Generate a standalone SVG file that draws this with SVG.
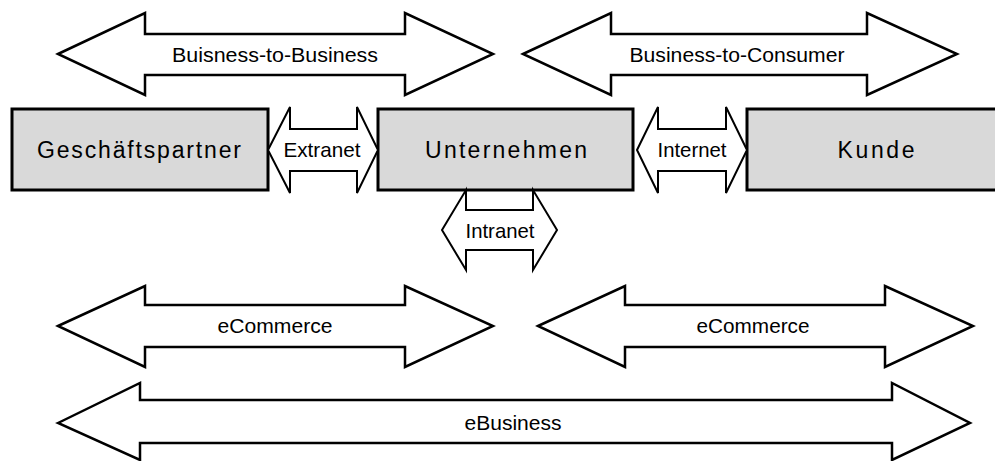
<svg xmlns="http://www.w3.org/2000/svg" width="995" height="461" viewBox="0 0 995 461">
<style>
.box{fill:#d9d9d9;stroke:#000;stroke-width:3}
.arr{fill:#fff;stroke:#000;stroke-width:2.5;stroke-linejoin:miter}
.sm{stroke-width:2}
text{font-family:"Liberation Sans",Arial,sans-serif;fill:#000;text-anchor:middle}
.node{font-size:23px}
.big{font-size:21px}
.lbl{font-size:20px}
</style>
<rect width="995" height="461" fill="#fff"/>
<g id="nodes">
<g id="geschaeftspartner">
<rect class="box" x="12" y="109" width="256" height="81"/>
<text class="node" x="139" y="158" textLength="204" lengthAdjust="spacing">Geschäftspartner</text>
</g>
<g id="unternehmen">
<rect class="box" x="378" y="109" width="255" height="81"/>
<text class="node" x="506" y="158" textLength="162" lengthAdjust="spacing">Unternehmen</text>
</g>
<g id="kunde">
<rect class="box" x="747" y="109" width="260" height="81"/>
<text class="node" x="876" y="158" textLength="77" lengthAdjust="spacing">Kunde</text>
</g>
</g>
<g id="connectors">
<g id="b2b">
<path class="arr" d="M58,54 L145,13 L145,34 L405,34 L405,13 L493,54 L405,95 L405,75 L145,75 L145,95 Z"/>
<text class="lbl" x="275" y="62" textLength="206" lengthAdjust="spacingAndGlyphs">Buisness-to-Business</text>
</g>
<g id="b2c">
<path class="arr" d="M523,54 L611,13 L611,34 L867,34 L867,13 L957,54 L867,95 L867,75 L611,75 L611,95 Z"/>
<text class="lbl" x="737" y="62" textLength="215" lengthAdjust="spacingAndGlyphs">Business-to-Consumer</text>
</g>
<g id="extranet">
<path class="arr sm" d="M268,150 L290,107 L290,129 L357,129 L357,107 L378,150 L357,193 L357,171 L290,171 L290,193 Z"/>
<text class="big" x="322" y="157" textLength="77" lengthAdjust="spacingAndGlyphs">Extranet</text>
</g>
<g id="internet">
<path class="arr sm" d="M637,150 L658,107 L658,129 L726,129 L726,107 L747,150 L726,193 L726,171 L658,171 L658,193 Z"/>
<text class="big" x="692" y="157" textLength="69" lengthAdjust="spacingAndGlyphs">Internet</text>
</g>
<g id="intranet">
<path class="arr sm" d="M442,230 L466,190 L466,210 L533,210 L533,190 L557,230 L533,270 L533,250 L466,250 L466,270 Z"/>
<text class="big" x="500" y="238" textLength="69" lengthAdjust="spacingAndGlyphs">Intranet</text>
</g>
<g id="ecommerce-left">
<path class="arr" d="M58,326 L145,286 L145,305 L405,305 L405,286 L493,326 L405,367 L405,347 L145,347 L145,367 Z"/>
<text class="lbl" x="275" y="333" textLength="115" lengthAdjust="spacingAndGlyphs">eCommerce</text>
</g>
<g id="ecommerce-right">
<path class="arr" d="M538,326 L625,286 L625,305 L885,305 L885,286 L973,326 L885,367 L885,347 L625,347 L625,367 Z"/>
<text class="lbl" x="753" y="333" textLength="113" lengthAdjust="spacingAndGlyphs">eCommerce</text>
</g>
<g id="ebusiness">
<path class="arr" d="M58,423 L140,383 L140,400 L892,400 L892,383 L970,423 L892,460 L892,443 L140,443 L140,460 Z"/>
<text class="lbl" x="513" y="430" textLength="97" lengthAdjust="spacingAndGlyphs">eBusiness</text>
</g>
</g>
</svg>
